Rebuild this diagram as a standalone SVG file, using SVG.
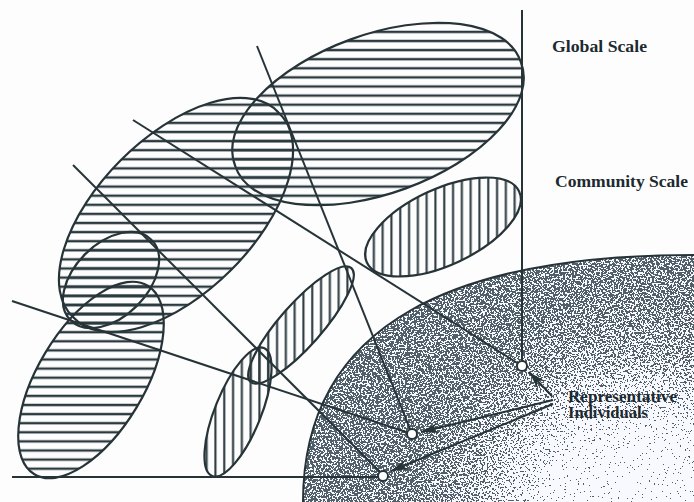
<svg xmlns="http://www.w3.org/2000/svg" width="694" height="502" viewBox="0 0 694 502">
  <style>
    .hh { fill: url(#hatchH); stroke: #263337; stroke-width: 2.2; }
    .vh { fill: url(#hatchV); stroke: #263337; stroke-width: 2.2; }
    .ln { fill: none; stroke: #263337; stroke-width: 2; }
    .ar { fill: none; stroke: #263337; stroke-width: 2; marker-end: url(#head); }
    .dot { fill: #ffffff; stroke: #263337; stroke-width: 2; }
    .lbl { font-family: "Liberation Serif", "Times New Roman", serif; font-weight: bold; fill: #1c2a30; }
  </style>
  <defs>
    <pattern id="hatchH" patternUnits="userSpaceOnUse" width="20" height="9.1">
      <rect x="0" y="3.4" width="20" height="2.4" fill="#2b3a3e"/>
    </pattern>
    <pattern id="hatchV" patternUnits="userSpaceOnUse" width="8.8" height="20">
      <rect x="3.2" y="0" width="2.1" height="20" fill="#2b3a3e"/>
    </pattern>
    <marker id="head" markerUnits="userSpaceOnUse" markerWidth="18" markerHeight="10" refX="17" refY="5" orient="auto">
      <path d="M0,0 L17,5 L0,10 L5,5 z" fill="#263337"/>
    </marker>
    <radialGradient id="shadeGrad" gradientUnits="userSpaceOnUse" cx="635" cy="520" r="300">
      <stop offset="0" stop-color="#ffffff"/>
      <stop offset="0.28" stop-color="#ececec"/>
      <stop offset="0.55" stop-color="#8c8c8c"/>
      <stop offset="0.75" stop-color="#707070"/>
      <stop offset="1" stop-color="#6a6a6a"/>
    </radialGradient>
    <filter id="grain" filterUnits="userSpaceOnUse" x="290" y="240" width="404" height="262" color-interpolation-filters="sRGB">
      <feTurbulence type="fractalNoise" baseFrequency="0.55" numOctaves="2" seed="7" result="n"/>
      <feColorMatrix in="n" type="matrix" values="1 0 0 0 0  1 0 0 0 0  1 0 0 0 0  0 0 0 0 1" result="g"/>
      <feComposite in="SourceGraphic" in2="g" operator="arithmetic" k1="0" k2="1" k3="2" k4="-1" result="s"/>
      <feComponentTransfer in="s">
        <feFuncR type="discrete" tableValues="0.32 0.97"/>
        <feFuncG type="discrete" tableValues="0.38 0.98"/>
        <feFuncB type="discrete" tableValues="0.41 1"/>
        <feFuncA type="discrete" tableValues="1 1"/>
      </feComponentTransfer>
    </filter>
    <clipPath id="shadeClip">
      <path d="M303,502 C303,320 460,255 694,255 L694,502 Z"/>
    </clipPath>
  </defs>

  <rect x="0" y="0" width="694" height="502" fill="#fdfdfe"/>

  <g id="individual-region">
    <g clip-path="url(#shadeClip)">
      <rect x="290" y="240" width="404" height="262" fill="url(#shadeGrad)" filter="url(#grain)"/>
    </g>
    <path class="ln" d="M303,502 C303,320 460,255 694,255"/>
  </g>

  <g id="global-ellipse-1">
    <path class="hh" d="M520.8,62 A152,78 -20 1 0 235.2,166 A152,78 -20 1 0 520.8,62 Z"/>
  </g>
  <g id="global-ellipse-2">
    <path class="hh" d="M278.5,112.5 A145,76 -45 1 0 73.5,317.5 A145,76 -45 1 0 278.5,112.5 Z"/>
  </g>
  <g id="global-ellipse-3">
    <path class="hh" d="M151.3,239.7 A57,36 -45 1 0 70.7,320.3 A57,36 -45 1 0 151.3,239.7 Z"/>
  </g>
  <g id="global-ellipse-4">
    <path class="hh" d="M147.65,285.71 A110,53 -59 1 0 34.35,474.29 A110,53 -59 1 0 147.65,285.71 Z"/>
  </g>
  <g id="community-ellipse-1">
    <path class="vh" d="M519.13,191.5 A84,38 -25 1 0 366.87,262.5 A84,38 -25 1 0 519.13,191.5 Z"/>
  </g>
  <g id="community-ellipse-2">
    <path class="vh" d="M351.36,268.08 A76,21 -48.5 1 0 250.64,381.92 A76,21 -48.5 1 0 351.36,268.08 Z"/>
  </g>
  <g id="community-ellipse-3">
    <path class="vh" d="M263.85,348.02 A69,23 -68 1 0 212.15,475.98 A69,23 -68 1 0 263.85,348.02 Z"/>
  </g>

  <g id="connectors">
    <line class="ln" x1="12" y1="301" x2="412" y2="434"/>
    <line class="ln" x1="73" y1="165" x2="383" y2="475"/>
    <line class="ln" x1="133" y1="120" x2="522" y2="366"/>
    <line class="ln" x1="257" y1="46" x2="412" y2="434"/>
    <line class="ln" x1="522" y1="10" x2="522" y2="366"/>
    <line class="ln" x1="12" y1="477" x2="383" y2="477"/>
    <line class="ar" x1="552" y1="396" x2="529" y2="372"/>
    <line class="ar" x1="553" y1="400" x2="421" y2="432"/>
    <line class="ar" x1="553" y1="404" x2="391" y2="471"/>
  </g>

  <g id="individual-1"><circle class="dot" cx="522" cy="366" r="5"/></g>
  <g id="individual-2"><circle class="dot" cx="412" cy="434" r="5"/></g>
  <g id="individual-3"><circle class="dot" cx="383" cy="476" r="5"/></g>

  <g id="label-global"><text class="lbl" x="552" y="52" font-size="16.5" textLength="95" lengthAdjust="spacingAndGlyphs">Global Scale</text></g>
  <g id="label-community"><text class="lbl" x="555" y="187" font-size="16.5" textLength="133" lengthAdjust="spacingAndGlyphs">Community Scale</text></g>
  <g id="label-individuals">
    <text class="lbl" x="568" y="402" font-size="16" textLength="109" lengthAdjust="spacingAndGlyphs">Representative</text>
    <text class="lbl" x="568" y="418" font-size="16" textLength="80" lengthAdjust="spacingAndGlyphs">Individuals</text>
  </g>
</svg>
